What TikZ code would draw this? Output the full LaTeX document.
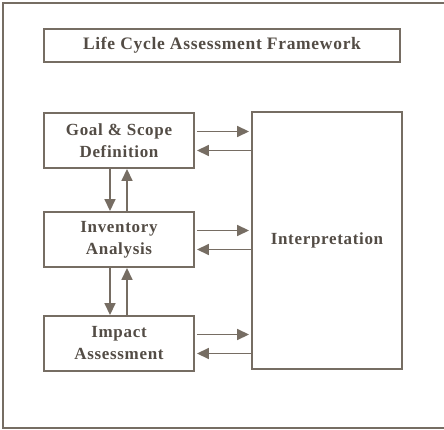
\documentclass[tikz,border=0pt]{standalone}
\usepackage{fontspec}
\setmainfont{Liberation Serif}
\newfontfamily\lcabox[LetterSpace=4]{Liberation Serif}
\newfontfamily\lcatitle[LetterSpace=4]{Liberation Serif}
\usetikzlibrary{arrows.meta}
\definecolor{lcagrey}{RGB}{118,109,99}

\begin{document}
\begin{tikzpicture}[x=1pt,y=-1pt,line width=1.9pt,draw=lcagrey,
  >={Triangle[length=12pt,width=11pt]},
  stage/.style={draw=lcagrey,line width=1.9pt,minimum width=150pt,minimum height=55pt,align=center,
    text=lcagrey!70!black,font=\lcabox\bfseries\fontsize{17}{22}\selectfont},
  flow/.style={draw=lcagrey,line width=1.6pt,->}]
  \useasboundingbox (0,0) rectangle (444,430);
  \draw (444,3) -- (3,3) -- (3,428) -- (444,428);

  \node[stage,minimum width=356pt,minimum height=33pt,font=\lcatitle\bfseries\fontsize{17.5}{20}\selectfont] (title) at (222,45.5) {Life Cycle Assessment Framework};
  \node[stage] (goal) at (119,140.5) {Goal \& Scope\\Definition};
  \node[stage] (inv) at (119,239.5) {Inventory\\Analysis};
  \node[stage] (impact) at (119,343.5) {Impact\\Assessment};
  \node[stage,minimum height=257pt] (interp) at (327,240.5) {Interpretation};

  \foreach \s in {goal,inv,impact} {
    \draw[flow] ([xshift=2pt,yshift=9pt]\s.east) -- ([xshift=-2pt,yshift=9pt]\s.east -| interp.west);
    \draw[flow] ([yshift=-10pt]\s.east -| interp.west) -- ([xshift=2pt,yshift=-10pt]\s.east);
  }

  \draw[flow] ([xshift=-9pt]goal.south) -- ([xshift=-9pt]inv.north);
  \draw[flow] ([xshift=8pt]inv.north) -- ([xshift=8pt]goal.south);
  \draw[flow] ([xshift=-9pt]inv.south) -- ([xshift=-9pt]impact.north);
  \draw[flow] ([xshift=8pt]impact.north) -- ([xshift=8pt]inv.south);
\end{tikzpicture}
\end{document}
